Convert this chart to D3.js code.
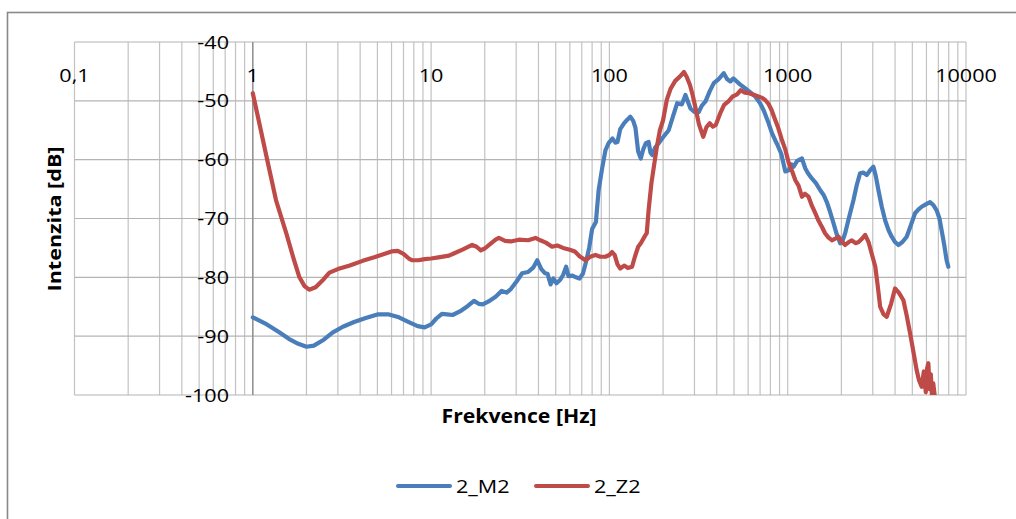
<!DOCTYPE html>
<html>
<head>
<meta charset="utf-8">
<script src="https://cdn.jsdelivr.net/npm/d3@7"></script>
<style>
  body { margin: 0; background: #fff; }
  svg { display: block; }
  text { font-family: "Open Sans", sans-serif; fill: #000; }
</style>
</head>
<body>
<div id="chart"></div>
<script>
// 2_M2 / 2_Z2 — spektrum, log osa frekvence
const m2Freq = [1, 1.2, 1.4, 1.6, 1.8, 2.0, 2.2, 2.5, 2.8, 3.2, 3.7, 4.3, 5.0, 5.8, 6.6, 7.5, 8.4, 9.2, 10, 10.7,
  11.5, 12.3, 13.2, 14.5, 16, 17.4, 18.5, 19.5, 21, 23, 24.9, 26.5, 28, 30, 32.4, 35, 37.5, 39.4, 41.5, 43.5,
  45, 46.8, 48.5, 50.5, 53, 55, 57.2, 59, 62, 65, 68, 71, 73.6, 77, 80, 84, 87, 91, 95, 99,
  104, 108, 111, 115, 121, 126, 131, 136, 140, 145, 150, 155, 160, 166, 170, 174, 180, 189, 200, 215,
  228, 240, 255, 267, 276, 285, 300, 317, 330, 346, 365, 385, 410, 438, 457, 477, 495, 509, 540, 579,
  620, 659, 700, 733, 775, 816, 870, 920, 970, 1012, 1050, 1079, 1130, 1202, 1256, 1300, 1366, 1440, 1523, 1590,
  1657, 1730, 1806, 1880, 1969, 2030, 2100, 2200, 2337, 2440, 2548, 2650, 2775, 2900, 3025, 3120, 3228, 3370, 3518, 3680,
  3831, 4000, 4177, 4400, 4649, 4900, 5178, 5400, 5639, 5950, 6285, 6550, 6843, 7100, 7300, 7550, 7784, 7960];
const m2Db = [-86.8, -88.0, -89.3, -90.5, -91.3, -91.8, -91.6, -90.6, -89.4, -88.4, -87.6, -86.9, -86.3, -86.3, -86.8, -87.6, -88.3, -88.5, -88.0, -87.0,
  -86.2, -86.3, -86.4, -85.8, -84.9, -84.0, -84.5, -84.6, -84.1, -83.3, -82.3, -82.6, -82.0, -80.8, -79.3, -79.1, -78.3, -77.1, -78.6, -79.3,
  -79.4, -81.2, -80.2, -81.0, -80.4, -79.6, -78.2, -79.8, -79.7, -80.0, -80.2, -79.4, -77.6, -75.0, -71.8, -70.6, -65.2, -61.5, -58.4, -57.2,
  -56.4, -57.1, -57.0, -54.8, -53.8, -53.2, -52.7, -53.4, -54.6, -58.6, -59.8, -58.2, -57.2, -57.0, -58.8, -59.2, -58.0, -57.2, -56.2, -55.0,
  -52.5, -50.4, -50.6, -49.0, -50.2, -51.3, -51.9, -51.9, -50.8, -50.1, -48.4, -47.0, -46.3, -45.3, -46.3, -46.7, -46.2, -46.5, -47.2, -47.9,
  -48.6, -49.3, -50.4, -51.6, -53.5, -55.5, -57.3, -59.0, -62.0, -61.8, -60.8, -61.2, -60.2, -59.8, -61.5, -62.3, -63.2, -64.0, -65.2, -66.0,
  -67.2, -68.9, -70.8, -72.6, -74.2, -73.8, -72.5, -70.0, -66.9, -64.3, -62.3, -62.2, -62.6, -61.8, -61.2, -62.8, -65.2, -68.0, -70.3, -72.0,
  -73.1, -74.0, -74.5, -74.0, -73.1, -71.2, -69.1, -68.5, -68.0, -67.6, -67.2, -67.7, -68.6, -70.0, -72.0, -74.5, -77.1, -78.2];

const z2Freq = [1, 1.1, 1.2, 1.35, 1.54, 1.7, 1.82, 1.95, 2.07, 2.25, 2.45, 2.69, 3.0, 3.5, 4.13, 4.8, 5.5, 6.0, 6.5, 7.0,
  7.5, 7.85, 8.5, 9.2, 10, 11, 12.6, 13.5, 15, 17, 18, 19, 20, 21.5, 23, 24, 26, 28, 31, 35,
  38.5, 41, 44, 47.7, 51, 55, 60, 64, 68, 73.4, 78, 83.5, 89, 95, 100, 103.5, 107, 111, 115, 121,
  127, 134, 139, 145, 150, 158, 162, 166, 172, 178, 184.6, 192, 200, 210, 220, 234, 250, 262, 272, 283,
  293, 303, 318, 336, 350, 365, 380, 395, 420, 440, 465, 490, 520, 545, 575, 606, 650, 690, 720, 750,
  780, 813, 845, 880, 925, 970, 1012, 1060, 1104, 1150, 1202, 1250, 1309, 1370, 1428, 1490, 1554, 1620, 1690, 1768,
  1850, 1927, 2010, 2100, 2200, 2290, 2400, 2500, 2600, 2720, 2840, 2960, 3100, 3200, 3300, 3450, 3592, 3800, 4000, 4200,
  4456, 4650, 4856, 5060, 5290, 5450, 5640, 5800, 5950, 6050, 6150, 6250, 6350, 6450, 6550, 6700, 6900];
const z2Db = [-48.7, -54.5, -59.8, -66.9, -72.5, -77.0, -79.9, -81.5, -82.1, -81.7, -80.6, -79.2, -78.6, -78.0, -77.2, -76.6, -76.0, -75.6, -75.5, -76.0,
  -76.8, -77.1, -77.1, -76.9, -76.8, -76.6, -76.3, -75.9, -75.3, -74.5, -74.8, -75.4, -75.1, -74.3, -73.6, -73.3, -73.8, -73.9, -73.6, -73.7,
  -73.3, -73.7, -74.1, -74.8, -74.6, -75.0, -75.3, -75.6, -76.4, -77.1, -76.5, -76.2, -76.5, -76.5, -76.2, -75.7, -76.2, -77.8, -78.5, -78.0,
  -78.4, -78.2, -76.5, -74.8, -74.2, -73.0, -72.5, -68.5, -64.0, -61.0, -57.8, -55.0, -53.3, -49.8, -48.0, -46.6, -45.8, -45.1, -46.0, -47.3,
  -49.0, -51.0, -54.0, -56.1, -54.5, -53.8, -54.4, -54.1, -52.0, -50.7, -50.1, -49.3, -48.9, -48.2, -48.6, -48.7, -49.0, -49.3, -49.5, -49.9,
  -50.5, -51.6, -53.0, -54.4, -56.5, -58.3, -60.5, -62.0, -63.5, -64.4, -66.3, -65.8, -66.3, -67.9, -69.1, -70.4, -71.4, -72.5, -73.2, -73.7,
  -73.4, -73.1, -73.9, -74.5, -74.0, -73.7, -74.2, -74.0, -73.5, -72.8, -74.0, -76.0, -78.2, -81.5, -85.0, -86.3, -86.7, -84.5, -81.9, -82.6,
  -83.9, -86.5, -89.5, -92.5, -95.8, -97.5, -98.6, -96.0, -99.5, -95.5, -94.6, -99.0, -96.5, -100.5, -98.0, -100.5, -101.5];

const xTicks = [0.1, 1, 10, 100, 1000, 10000];
const xTickLabels = ["0,1", "1", "10", "100", "1000", "10000"];
const yTicks = [-40, -50, -60, -70, -80, -90, -100];
const seriesNames = ["2_M2", "2_Z2"];
const colors = ["#4a7ebb", "#be4b48"];

const width = 1016, height = 519;
const plot = {left: 74.5, right: 966, top: 42, bottom: 395};

const svg = d3.select("#chart").append("svg")
  .attr("width", width).attr("height", height);

const x = d3.scaleLog().domain([0.1, 10000]).range([plot.left, plot.right]);
const y = d3.scaleLinear().domain([-100, -40]).range([plot.bottom, plot.top]);

// ramecek grafu
svg.append("rect")
  .attr("x", 7.5).attr("y", 12.5)
  .attr("width", 1040).attr("height", 540)
  .attr("fill", "none").attr("stroke", "#898989").attr("stroke-width", 1.6);

// mrizka - vedlejsi i hlavni svisle cary
const gridX = [];
[-1, 0, 1, 2, 3].forEach(k => {
  for (let m = 1; m <= 9; m++) gridX.push(m * Math.pow(10, k));
});
gridX.push(10000);

svg.append("g").selectAll("line")
  .data(gridX)
  .join("line")
    .attr("x1", d => x(d)).attr("x2", d => x(d))
    .attr("y1", plot.top).attr("y2", plot.bottom)
    .attr("stroke", "#c2c2c2").attr("stroke-width", 1.2);

svg.append("g").selectAll("line")
  .data(yTicks)
  .join("line")
    .attr("x1", plot.left).attr("x2", plot.right)
    .attr("y1", d => y(d)).attr("y2", d => y(d))
    .attr("stroke", "#b4b4b4").attr("stroke-width", 1.2);

// svisla osa prochazi x = 1
svg.append("line")
  .attr("x1", x(1)).attr("x2", x(1))
  .attr("y1", plot.top).attr("y2", plot.bottom)
  .attr("stroke", "#8a8a8a").attr("stroke-width", 1.3);

// popisky os (obrazek je vodorovne roztazeny)
const sx = 1.2;
svg.append("g").selectAll("text")
  .data(yTicks)
  .join("text")
    .attr("transform", d => `translate(229,${y(d) + 6.5}) scale(${sx},1)`)
    .attr("text-anchor", "end")
    .style("font-size", "18px")
    .text(d => d);

svg.append("g").selectAll("text")
  .data(xTicks)
  .join("text")
    .attr("transform", d => `translate(${x(d)},81.5) scale(${sx},1)`)
    .attr("text-anchor", "middle")
    .style("font-size", "18px")
    .text((d, i) => xTickLabels[i]);

svg.append("text")
  .attr("x", 519).attr("y", 422.5)
  .attr("text-anchor", "middle")
  .attr("textLength", 155).attr("lengthAdjust", "spacingAndGlyphs")
  .style("font-size", "19px").style("font-weight", "bold")
  .text("Frekvence [Hz]");

svg.append("text")
  .attr("transform", "translate(60.5,219) rotate(-90)")
  .attr("text-anchor", "middle")
  .attr("textLength", 145).attr("lengthAdjust", "spacingAndGlyphs")
  .style("font-size", "18px").style("font-weight", "bold")
  .text("Intenzita [dB]");

// krivky
svg.append("clipPath").attr("id", "clip")
  .append("rect")
  .attr("x", plot.left).attr("y", plot.top)
  .attr("width", plot.right - plot.left).attr("height", plot.bottom - plot.top);

const line = d3.line()
  .x(d => x(d[0]))
  .y(d => y(d[1]));

const series = [
  d3.zip(m2Freq, m2Db),
  d3.zip(z2Freq, z2Db)
];

svg.append("g").attr("clip-path", "url(#clip)")
  .selectAll("path")
  .data(series)
  .join("path")
    .attr("d", line)
    .attr("fill", "none")
    .attr("stroke", (d, i) => colors[i])
    .attr("stroke-width", 4.2)
    .attr("stroke-linejoin", "round")
    .attr("stroke-linecap", "round");

// legenda
const legendX = [398, 536];
seriesNames.forEach((name, i) => {
  svg.append("line")
    .attr("x1", legendX[i]).attr("x2", legendX[i] + 52)
    .attr("y1", 486).attr("y2", 486)
    .attr("stroke", colors[i]).attr("stroke-width", 4)
    .attr("stroke-linecap", "round");
  svg.append("text")
    .attr("transform", `translate(${legendX[i] + 58},493) scale(${sx},1)`)
    .style("font-size", "18px")
    .text(name);
});
</script>
</body>
</html>
